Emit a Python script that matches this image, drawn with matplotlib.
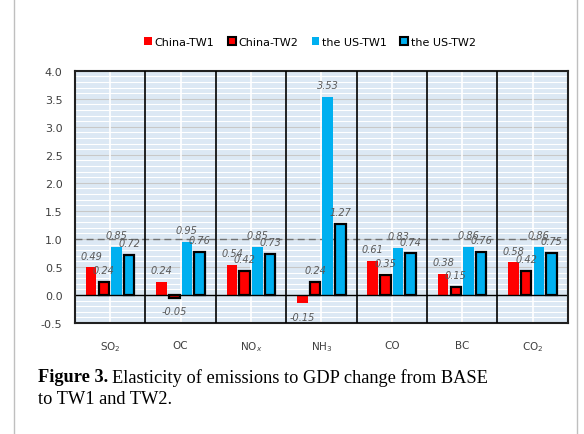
import matplotlib
matplotlib.use("Agg")
import matplotlib.pyplot as plt
import numpy as np
from matplotlib.patches import Patch
from matplotlib.lines import Line2D

categories = ["SO$_2$", "OC", "NO$_x$", "NH$_3$", "CO", "BC", "CO$_2$"]
china_tw1 = [0.49, 0.24, 0.54, -0.15, 0.61, 0.38, 0.58]
china_tw2 = [0.24, -0.05, 0.42, 0.24, 0.35, 0.15, 0.42]
us_tw1 = [0.85, 0.95, 0.85, 3.53, 0.83, 0.86, 0.86]
us_tw2 = [0.72, 0.76, 0.73, 1.27, 0.74, 0.76, 0.75]
series_names = ["China-TW1", "China-TW2", "the US-TW1", "the US-TW2"]
yticks = [-0.5, 0.0, 0.5, 1.0, 1.5, 2.0, 2.5, 3.0, 3.5, 4.0]

RED = "#FF0000"
BLUE = "#00B0F0"

fig = plt.figure(figsize=(5.84, 4.35), dpi=100)
ax = fig.add_axes([75/584, 1-324/435, (567.7-75)/584, (324-71.7)/435])

n = len(categories)
x = np.arange(n)
offsets = [-0.27, -0.09, 0.09, 0.27]
width = 0.15
series = [china_tw1, china_tw2, us_tw1, us_tw2]
colors = [RED, RED, BLUE, BLUE]
edged = [False, True, False, True]

ax.set_facecolor("#DCE8F4")
ax.set_xlim(-0.5, n - 0.5)
ax.set_ylim(-0.5, 4.0)

for v in np.arange(-0.5, 4.0001, 0.1):
    ax.axhline(v, color="white", lw=0.8, zorder=0.5)
for v in yticks:
    ax.axhline(v, color="#C8C8C8", lw=0.8, zorder=0.6)
for xi in x:
    ax.axvline(xi, color="white", lw=1.2, zorder=0.6)
for xi in np.arange(0.5, n - 0.5, 1):
    ax.axvline(xi, color="black", lw=1.2, zorder=3)

ax.axhline(1.0, color="#707070", lw=1.0, ls=(0, (5, 3)), zorder=1)
ax.axhline(0.0, color="black", lw=1.0, zorder=2.5)

for vals, off, c, e in zip(series, offsets, colors, edged):
    ax.bar(x + off, vals, width, color=c,
           edgecolor="black" if e else "none",
           linewidth=1.6 if e else 0, zorder=2)
    for xi, v in zip(x, vals):
        if v >= 0:
            ax.annotate(f"{v:.2f}", (xi + off, v), xytext=(0, 5),
                        textcoords="offset points", ha="center", va="bottom",
                        fontsize=7, style="italic", color="#595959", zorder=4)
        else:
            ax.annotate(f"{v:.2f}", (xi + off, v), xytext=(0, -6),
                        textcoords="offset points", ha="center", va="top",
                        fontsize=7, style="italic", color="#595959", zorder=4)

ax.set_xticks(x)
ax.set_xticklabels(categories, fontsize=7.5, color="#404040")
ax.set_yticks(yticks)
ax.set_yticklabels([f"{v:.1f}" for v in yticks], fontsize=8, color="#404040")
ax.tick_params(length=0, pad=9)
ax.tick_params(axis="x", pad=12)
for s in ax.spines.values():
    s.set_linewidth(1.5)
    s.set_color("#202020")

handles = [
    Patch(facecolor=RED, edgecolor="none"),
    Patch(facecolor=RED, edgecolor="black", linewidth=1.5),
    Patch(facecolor=BLUE, edgecolor="none"),
    Patch(facecolor=BLUE, edgecolor="black", linewidth=1.5),
]
fig.legend(handles, series_names, loc="center", bbox_to_anchor=(310/584, 1-43/435),
           ncol=4, frameon=False, fontsize=8, handlelength=0.7, handleheight=0.7,
           handletextpad=0.25, columnspacing=1.2)

fig.add_artist(Line2D([14/584, 14/584], [0, 1], color="#BFBFBF", lw=1.0))
fig.add_artist(Line2D([577/584, 577/584], [0, 1], color="#BFBFBF", lw=1.0))

serif = ["Liberation Serif", "DejaVu Serif"]
t1 = fig.text(38/584, 1-378/435, "Figure 3.", fontsize=13.2, fontweight="bold",
              family=serif, va="center", ha="left")
fig.canvas.draw()
bb = t1.get_window_extent()
fig.text(bb.x1/584 + 4/584, 1-378/435, "Elasticity of emissions to GDP change from BASE",
         fontsize=13.2, family=serif, va="center", ha="left")
fig.text(38/584, 1-400/435, "to TW1 and TW2.", fontsize=13.2, family=serif,
         va="center", ha="left")

fig.savefig("out.png", dpi=100)
